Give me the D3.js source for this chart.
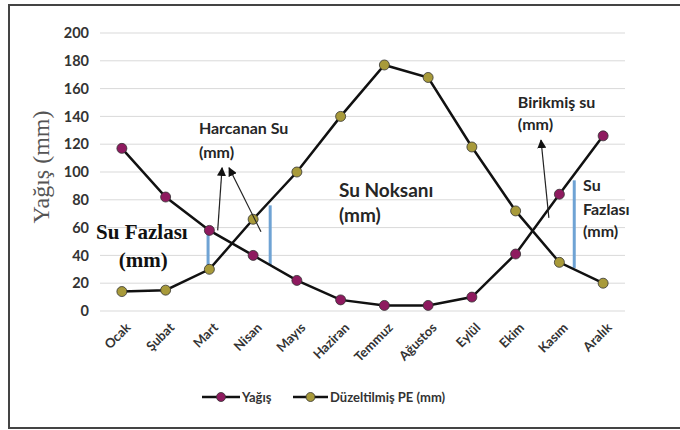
<!DOCTYPE html>
<html>
<head>
<meta charset="utf-8">
<script src="https://cdn.jsdelivr.net/npm/d3@7"></script>
<style>
  body { margin: 0; background: #fff; }
  .tick text { font-family: Lato, "Open Sans", sans-serif; font-weight: bold; fill: #333; }
</style>
</head>
<body>
<div id="chart"></div>
<script>
// months, rainfall and corrected PE (mm)
var months = ["Ocak", "Şubat", "Mart", "Nisan", "Mayıs", "Haziran", "Temmuz", "Ağustos", "Eylül", "Ekim", "Kasım", "Aralık"];
var yagis = [117, 82, 58, 40, 22, 8, 4, 4, 10, 41, 84, 126];
var pe = [14, 15, 30, 66, 100, 140, 177, 168, 118, 72, 35, 20];
var yTicks = [0, 20, 40, 60, 80, 100, 120, 140, 160, 180, 200];

// annotations, in month index / value units
var blueLines = [[1.97, 57, 31], [3.39, 76, 33], [10.34, 94, 31]];
var arrows = [[2.19, 58, 2.29, 103], [3.18, 57, 2.45, 103], [9.76, 67, 9.58, 123]];
var labels = [
    {i: 1.76, v: 127, t: "Harcanan Su", s: 16},
    {i: 1.76, v: 110, t: "(mm)", s: 16},
    {i: 4.96, v: 82, t: "Su Noksanı", s: 19},
    {i: 4.96, v: 64, t: "(mm)", s: 19},
    {i: 9.05, v: 146, t: "Birikmiş su", s: 16},
    {i: 9.05, v: 130, t: "(mm)", s: 16},
    {i: 10.54, v: 86, t: "Su", s: 16},
    {i: 10.54, v: 69, t: "Fazlası", s: 16},
    {i: 10.54, v: 53, t: "(mm)", s: 16}
];
var serifLabels = [
    {i: -0.59, v: 52, t: "Su Fazlası"},
    {i: -0.07, v: 32, t: "(mm)"}
];

var purple = "#8e1a5f", olive = "#a89a3a";

var svg = d3.select("#chart").append("svg")
    .attr("width", 680)
    .attr("height", 430);

svg.append("rect")
    .attr("x", 9).attr("y", 5)
    .attr("width", 680).attr("height", 423)
    .attr("fill", "none")
    .attr("stroke", "#444")
    .attr("stroke-width", 2);

var x = d3.scalePoint().domain(d3.range(12)).range([100, 625]).padding(0.5);
var step = x.step();
function xi(i){ return x(0) + i * step; }
var y = d3.scaleLinear().domain([0, 200]).range([311, 33]);

// grid
svg.append("g").selectAll("line")
    .data(yTicks)
    .enter().append("line")
    .attr("x1", 100).attr("x2", 625)
    .attr("y1", function(d){ return y(d); })
    .attr("y2", function(d){ return y(d); })
    .attr("stroke", "#d9d9d9")
    .attr("stroke-width", 1);

var yAxis = svg.append("g")
    .attr("transform", "translate(89,0)")
    .call(d3.axisLeft(y).tickValues(yTicks).tickSize(0).tickPadding(0));
yAxis.select(".domain").remove();
yAxis.selectAll("text").attr("font-size", 14.5);

// month labels, rotated -45deg on a wrapper group
var mg = svg.append("g").selectAll("g")
    .data(d3.range(12))
    .enter().append("g")
    .attr("transform", function(d){ return "translate(" + (x(d) + 3) + ",322)"; })
    .append("g")
    .attr("transform", "rotate(-45)");
mg.append("text")
    .attr("text-anchor", "end")
    .attr("dy", "0.7em")
    .attr("font-family", "Lato, sans-serif")
    .attr("font-weight", "bold")
    .attr("font-size", 13)
    .attr("fill", "#333")
    .text(function(d){ return months[d]; });

svg.append("text")
    .attr("transform", "translate(49,167) rotate(-90)")
    .attr("text-anchor", "middle")
    .attr("font-family", "Liberation Serif, serif")
    .attr("font-size", 24)
    .attr("fill", "#555")
    .text("Yağış (mm)");

// blue difference lines
svg.append("g").selectAll("line")
    .data(blueLines)
    .enter().append("line")
    .attr("x1", function(d){ return xi(d[0]); })
    .attr("x2", function(d){ return xi(d[0]); })
    .attr("y1", function(d){ return y(d[1]); })
    .attr("y2", function(d){ return y(d[2]); })
    .attr("stroke", "#6fa3d4")
    .attr("stroke-width", 3);

var line = d3.line()
    .x(function(d, i){ return x(i); })
    .y(function(d){ return y(d); });

[[pe, olive], [yagis, purple]].forEach(function(s){
    svg.append("path")
        .attr("d", line(s[0]))
        .attr("fill", "none")
        .attr("stroke", "#111")
        .attr("stroke-width", 2.5);
    svg.append("g").selectAll("circle")
        .data(s[0])
        .enter().append("circle")
        .attr("cx", function(d, i){ return x(i); })
        .attr("cy", function(d){ return y(d); })
        .attr("r", 5)
        .attr("fill", s[1])
        .attr("stroke", "#333")
        .attr("stroke-width", 0.8);
});

// arrows
svg.append("defs").append("marker")
    .attr("id", "head")
    .attr("viewBox", "0 0 10 10")
    .attr("refX", 9).attr("refY", 5)
    .attr("markerWidth", 9).attr("markerHeight", 9)
    .attr("markerUnits", "userSpaceOnUse")
    .attr("orient", "auto")
    .append("path")
    .attr("d", "M0,0 L10,5 L0,10 Z")
    .attr("fill", "#111");

svg.append("g").selectAll("line")
    .data(arrows)
    .enter().append("line")
    .attr("x1", function(d){ return xi(d[0]); })
    .attr("y1", function(d){ return y(d[1]); })
    .attr("x2", function(d){ return xi(d[2]); })
    .attr("y2", function(d){ return y(d[3]); })
    .attr("stroke", "#222")
    .attr("stroke-width", 1.2)
    .attr("marker-end", "url(#head)");

svg.append("g").selectAll("text")
    .data(labels)
    .enter().append("text")
    .attr("x", function(d){ return xi(d.i); })
    .attr("y", function(d){ return y(d.v); })
    .attr("font-family", "Lato, sans-serif")
    .attr("font-weight", "bold")
    .attr("font-size", function(d){ return d.s; })
    .attr("fill", "#262626")
    .text(function(d){ return d.t; });

svg.append("g").selectAll("text")
    .data(serifLabels)
    .enter().append("text")
    .attr("x", function(d){ return xi(d.i); })
    .attr("y", function(d){ return y(d.v); })
    .attr("font-family", "Liberation Serif, serif")
    .attr("font-weight", "bold")
    .attr("font-size", 21)
    .attr("fill", "#111")
    .text(function(d){ return d.t; });

// legend
var legend = [
    {name: "Yağış", color: purple, x: 202, w: 38},
    {name: "Düzeltilmiş PE (mm)", color: olive, x: 293, w: 35}
];
var lg = svg.append("g").selectAll("g")
    .data(legend)
    .enter().append("g")
    .attr("transform", function(d){ return "translate(" + d.x + ",397)"; });
lg.append("line")
    .attr("x1", 0).attr("x2", function(d){ return d.w; })
    .attr("stroke", "#111").attr("stroke-width", 2.5);
lg.append("circle")
    .attr("cx", function(d){ return d.w / 2; })
    .attr("r", 4.5)
    .attr("fill", function(d){ return d.color; })
    .attr("stroke", "#333").attr("stroke-width", 0.8);
lg.append("text")
    .attr("x", function(d){ return d.w + 2; })
    .attr("y", 5)
    .attr("font-family", "Lato, sans-serif")
    .attr("font-weight", "bold")
    .attr("font-size", 13)
    .attr("fill", "#333")
    .text(function(d){ return d.name; });
</script>
</body>
</html>
